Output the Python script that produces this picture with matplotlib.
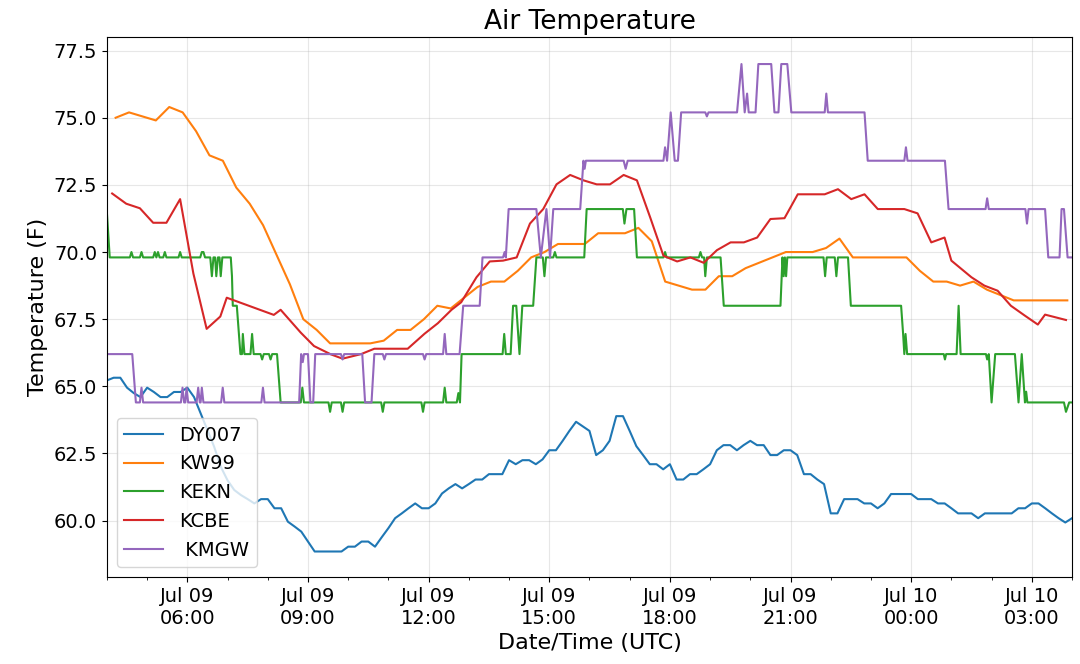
import numpy as np
import pandas as pd
import matplotlib
matplotlib.use('Agg')
import matplotlib.pyplot as plt
import matplotlib.dates as mdates

base = pd.Timestamp('2019-07-09 04:00')

# DY007 - every 10 minutes from 04:00
dy007_temp = [65.22, 65.32, 65.32, 64.95, 64.75, 64.6, 64.95, 64.79, 64.6, 64.6,
              64.79, 64.79, 64.95, 64.6, 63.99, 63.37, 62.75, 62.0, 61.5, 61.14,
              60.95, 60.8, 60.64, 60.8, 60.8, 60.46, 60.46, 59.96, 59.78, 59.59,
              59.22, 58.85, 58.85, 58.85, 58.85, 58.85, 59.03, 59.03, 59.22, 59.22,
              59.03, 59.38, 59.72, 60.09, 60.27, 60.46, 60.64, 60.46, 60.46, 60.64,
              61.01, 61.2, 61.36, 61.2, 61.36, 61.53, 61.53, 61.73, 61.73, 61.73,
              62.25, 62.1, 62.25, 62.25, 62.1, 62.28, 62.62, 62.62, 62.97, 63.34,
              63.68, 63.51, 63.34, 62.44, 62.62, 62.97, 63.89, 63.89, 63.34, 62.77,
              62.44, 62.1, 62.1, 61.91, 62.1, 61.53, 61.53, 61.73, 61.73, 61.91,
              62.1, 62.62, 62.81, 62.81, 62.62, 62.81, 62.97, 62.81, 62.81, 62.44,
              62.44, 62.62, 62.62, 62.44, 61.73, 61.73, 61.53, 61.36, 60.27, 60.27,
              60.8, 60.8, 60.8, 60.64, 60.64, 60.46, 60.64, 60.99, 60.99, 60.99,
              60.99, 60.8, 60.8, 60.8, 60.64, 60.64, 60.46, 60.27, 60.27, 60.27,
              60.09, 60.27, 60.27, 60.27, 60.27, 60.27, 60.46, 60.46, 60.64, 60.64,
              60.46, 60.27, 60.09, 59.93, 60.09]
dy007_time = pd.date_range(base, periods=len(dy007_temp), freq='10min')

# KW99 - every 20 minutes from 04:13
kw99_temp = [75.0, 75.2, 75.05, 74.9, 75.4, 75.2, 74.5, 73.6, 73.4, 72.4,
             71.8, 71.0, 69.9, 68.8, 67.5, 67.1, 66.6, 66.6, 66.6, 66.6,
             66.7, 67.1, 67.1, 67.5, 68.0, 67.9, 68.3, 68.7, 68.9, 68.9,
             69.3, 69.8, 70.0, 70.3, 70.3, 70.3, 70.7, 70.7, 70.7, 70.9,
             70.4, 68.9, 68.75, 68.6, 68.6, 69.1, 69.1, 69.4, 69.6, 69.8,
             70.0, 70.0, 70.0, 70.15, 70.5, 69.8, 69.8, 69.8, 69.8, 69.8,
             69.3, 68.9, 68.9, 68.75, 68.9, 68.6, 68.4, 68.2, 68.2, 68.2,
             68.2, 68.2]
kw99_time = pd.date_range(base + pd.Timedelta(minutes=13), periods=len(kw99_temp), freq='20min')

# KEKN (hours after 04:00, temp)
kekn_hr = [0.0, 0.07, 0.57, 0.61, 0.65, 0.82, 0.86, 0.9, 1.15, 1.19, 1.23, 1.27, 1.31,
           1.4, 1.44, 1.48, 1.78, 1.82, 1.86, 2.32, 2.36, 2.4, 2.44, 2.57, 2.61, 2.65,
           2.69, 2.72, 2.76, 2.8, 2.83, 2.87, 3.08, 3.11, 3.13, 3.23, 3.32, 3.36, 3.38,
           3.42, 3.57, 3.61, 3.65, 3.82, 3.86, 3.9, 4.03, 4.07, 4.11, 4.23, 4.32, 4.82,
           4.86, 4.9, 5.51, 5.55, 5.59, 5.82, 5.86, 5.9, 6.82, 6.86, 6.9, 7.82, 7.86,
           7.9, 8.36, 8.4, 8.44, 8.7, 8.74, 8.78, 8.82, 9.84, 9.88, 9.92, 10.04, 10.1,
           10.18, 10.26, 10.33, 10.6, 10.68, 10.84, 10.88, 10.92, 11.1, 11.14, 11.18,
           11.87, 11.93, 12.83, 12.87, 12.92, 13.11, 13.18, 13.84, 13.88, 13.92, 14.72,
           14.76, 14.8, 14.85, 14.88, 14.92, 15.26, 15.34, 16.75, 16.8, 16.83, 16.86,
           16.89, 16.92, 17.82, 17.86, 17.9, 18.1, 18.14, 18.18, 18.43, 18.5, 19.75,
           19.8, 19.83, 19.86, 19.9, 20.81, 20.84, 20.87, 21.13, 21.18, 21.23, 21.86,
           21.89, 21.93, 22.0, 22.09, 22.58, 22.67, 22.75, 22.83, 22.86, 22.89, 23.8,
           23.85, 23.93, 24.0]
kekn_temp = [71.45, 69.8, 69.8, 70.0, 69.8, 69.8, 70.0, 69.8, 69.8, 70.0, 69.8, 70.0, 69.8,
             69.8, 70.0, 69.8, 69.8, 70.0, 69.8, 69.8, 70.0, 70.0, 69.8, 69.8, 69.1, 69.8,
             69.8, 69.1, 69.8, 69.8, 69.1, 69.8, 69.8, 69.1, 68.0, 68.0, 66.2, 66.2, 66.95,
             66.2, 66.2, 66.95, 66.2, 66.2, 66.0, 66.2, 66.2, 66.0, 66.2, 66.2, 64.4, 64.4,
             64.95, 64.4, 64.4, 64.05, 64.4, 64.4, 64.05, 64.4, 64.4, 64.05, 64.4, 64.4, 64.05,
             64.4, 64.4, 64.95, 64.4, 64.4, 64.75, 64.4, 66.2, 66.2, 66.95, 66.2, 66.2, 68.0,
             68.0, 66.2, 68.0, 68.0, 69.8, 69.8, 69.1, 69.8, 69.8, 70.0, 69.8,
             69.8, 71.6, 71.6, 71.06, 71.6, 71.6, 69.8, 69.8, 70.0, 69.8, 69.8,
             70.0, 69.8, 69.8, 69.1, 69.8, 69.8, 68.0, 68.0, 69.8, 69.1, 69.8,
             69.1, 69.8, 69.8, 69.1, 69.8, 69.8, 69.1, 69.8, 69.8, 68.0, 68.0,
             66.95, 66.2, 66.95, 66.2, 66.2, 66.0, 66.2, 66.2, 68.0, 66.2, 66.2,
             66.0, 66.2, 64.4, 66.2, 66.2, 64.4, 66.2, 64.4, 64.8, 64.4, 64.4,
             64.05, 64.4, 64.4]

# KCBE (hours after 04:00, temp)
kcbe_hr = [0.13, 0.48, 0.82, 1.15, 1.48, 1.82, 2.15, 2.48, 2.82, 2.98, 4.15, 4.32, 4.82,
           5.15, 5.57, 5.86, 6.32, 6.65, 7.48, 7.9, 8.23, 8.57, 8.81, 9.19, 9.52, 9.85,
           10.19, 10.52, 10.85, 11.18, 11.52, 11.85, 12.18, 12.51, 12.85, 13.18, 13.51,
           13.84, 14.18, 14.51, 14.84, 15.17, 15.51, 15.84, 16.17, 16.5, 16.85, 17.18,
           17.85, 18.18, 18.51, 18.84, 19.17, 19.83, 20.16, 20.5, 20.83, 21.0, 21.5,
           21.82, 22.15, 22.48, 22.82, 23.15, 23.33, 23.85]
kcbe_temp = [72.18, 71.8, 71.63, 71.09, 71.09, 71.97, 69.2, 67.14, 67.6, 68.3, 67.66, 67.85,
             67.0, 66.5, 66.19, 66.03, 66.2, 66.4, 66.4, 66.96, 67.35, 67.85, 68.13, 69.06,
             69.65, 69.68, 69.8, 71.06, 71.6, 72.52, 72.87, 72.67, 72.52, 72.52, 72.87,
             72.67, 71.29, 69.86, 69.65, 69.8, 69.6, 70.07, 70.36, 70.36, 70.54, 71.23,
             71.26, 72.15, 72.15, 72.34, 71.97, 72.15, 71.6, 71.6, 71.44, 70.36, 70.54,
             69.68, 69.06, 68.75, 68.56, 68.0, 67.64, 67.3, 67.67, 67.47]

# KMGW (hours after 04:00, temp)
kmgw_hr = [0.0, 0.63, 0.72, 0.82, 0.86, 0.9, 1.84, 1.88, 1.92, 1.95, 1.98, 2.02, 2.23, 2.27,
           2.31, 2.33, 2.36, 2.4, 2.84, 2.88, 2.92, 3.84, 3.88, 3.92, 4.78, 4.83, 4.87,
           4.9, 5.0, 5.06, 5.13, 5.18, 5.82, 5.86, 5.9, 6.35, 6.42, 6.58, 6.65, 6.86,
           6.9, 6.94, 7.86, 7.9, 7.94, 8.36, 8.4, 8.44, 8.77, 8.86, 9.27, 9.34, 9.85,
           9.89, 9.92, 9.99, 10.68, 10.79, 10.93, 11.02, 11.1, 11.77, 11.85, 11.88, 11.91,
           12.85, 12.9, 12.95, 13.84, 13.88, 13.93, 14.02, 14.12, 14.2, 14.28, 14.88,
           14.92, 14.96, 15.67, 15.78, 15.86, 15.92, 15.96, 16.13, 16.2, 16.52, 16.6,
           16.7, 16.77, 16.92, 17.02, 17.85, 17.89, 17.93, 18.84, 18.92, 19.83, 19.87,
           19.91, 20.84, 20.93, 21.85, 21.89, 21.93, 22.84, 22.88, 22.92, 23.33, 23.41,
           23.69, 23.74, 23.8, 23.89, 24.0]
kmgw_temp = [66.2, 66.2, 64.4, 64.4, 64.95, 64.4, 64.4, 64.95, 64.4, 64.4, 64.95, 64.4, 64.4, 64.95,
             64.4, 64.4, 64.95, 64.4, 64.4, 64.95, 64.4, 64.4, 64.95, 64.4, 64.4, 66.2, 65.9,
             66.2, 66.2, 64.4, 64.4, 66.2, 66.2, 66.0, 66.2, 66.2, 64.4, 64.4, 66.2, 66.2,
             66.0, 66.2, 66.2, 66.0, 66.2, 66.2, 66.95, 66.2, 66.2, 68.0, 68.0, 69.8, 69.8,
             70.0, 69.8, 71.6, 71.6, 69.8, 71.6, 69.8, 71.6, 71.6, 73.4, 73.1, 73.4,
             73.4, 73.1, 73.4, 73.4, 73.9, 73.4, 75.2, 73.4, 73.4, 75.2, 75.2,
             75.05, 75.2, 75.2, 77.0, 75.2, 75.9, 75.2, 75.2, 77.0, 77.0, 75.2,
             75.2, 77.0, 77.0, 75.2, 75.2, 75.9, 75.2, 75.2, 73.4, 73.4, 73.9,
             73.4, 73.4, 71.6, 71.6, 72.0, 71.6, 71.6, 71.06, 71.6, 71.6, 69.8,
             69.8, 71.6, 71.6, 69.8, 69.8]

kekn_time = base + pd.to_timedelta(kekn_hr, unit='h')
kcbe_time = base + pd.to_timedelta(kcbe_hr, unit='h')
kmgw_time = base + pd.to_timedelta(kmgw_hr, unit='h')

fig = plt.figure(figsize=(10.8, 6.64), dpi=100)
ax = fig.add_subplot(111)
fig.subplots_adjust(left=0.099, right=0.9926, bottom=0.131, top=0.944)

ax.plot(dy007_time, dy007_temp, label='DY007')
ax.plot(kw99_time, kw99_temp, label='KW99')
ax.plot(kekn_time, kekn_temp, label='KEKN')
ax.plot(kcbe_time, kcbe_temp, label='KCBE')
ax.plot(kmgw_time, kmgw_temp, label=' KMGW')

ax.set_xlim(base, base + pd.Timedelta(hours=24))
ax.set_ylim(57.9, 78.0)
ax.set_yticks([60.0, 62.5, 65.0, 67.5, 70.0, 72.5, 75.0, 77.5])

ax.xaxis.set_major_locator(mdates.HourLocator(byhour=range(0, 24, 3)))
ax.xaxis.set_minor_locator(mdates.HourLocator())
ax.xaxis.set_major_formatter(mdates.DateFormatter('%b %d\n%H:%M'))

ax.tick_params(axis='both', which='major', labelsize=14)
ax.grid(True, alpha=0.3)
ax.set_title('Air Temperature', fontsize=19)
ax.set_xlabel('Date/Time (UTC)', fontsize=16)
ax.set_ylabel('Temperature (F)', fontsize=16)
ax.legend(loc='lower left', fontsize=14)

fig.savefig('out.png', dpi=100)
